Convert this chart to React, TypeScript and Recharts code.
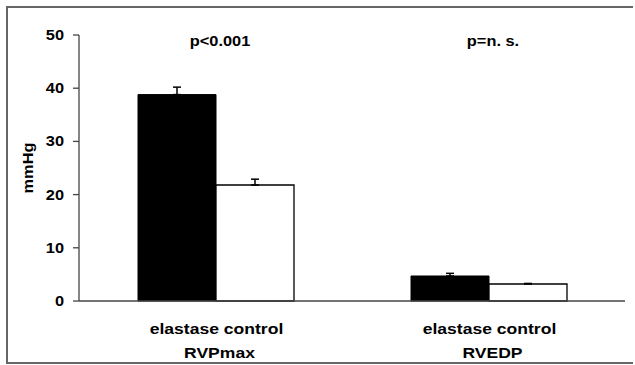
import { BarChart, Bar, XAxis, YAxis, ErrorBar, LabelList, Label } from "recharts";

const categories = ["RVPmax", "RVEDP"];
const groupLabels = ["elastase control", "elastase control"];
const elastase = [38.8, 4.7];
const elastaseErr = [1.4, 0.5];
const control = [21.8, 3.2];
const controlErr = [1.1, 0.1];
const pValues = ["p<0.001", "p=n. s."];
const yTicks = [0, 10, 20, 30, 40, 50];
const edgeTicks = [0, 1, 2];

const data = categories.map((name, i) => ({
  name,
  sub: groupLabels[i],
  elastase: elastase[i],
  elastaseErr: [0, elastaseErr[i]],
  control: control[i],
  controlErr: [0, controlErr[i]],
  p: pValues[i],
}));

const FONT = "'Liberation Sans', Arial, sans-serif";
const SX = 1.17; // text in the source is a bit wider than Arial

function YTick({ x, y, payload }: any) {
  return (
    <text
      transform={`translate(${x},${y + 5}) scale(${SX},1)`}
      textAnchor="end"
      fontFamily={FONT}
      fontWeight="bold"
      fontSize={14}
      fill="#000"
    >
      {payload.value}
    </text>
  );
}

function CatTick({ x, y, payload }: any) {
  const i = categories.indexOf(payload.value);
  const style = { fontFamily: FONT, fontWeight: "bold", fontSize: 15, fill: "#000" };
  return (
    <g>
      <text transform={`translate(${x + 1},${y + 33}) scale(${SX},1)`} textAnchor="middle" style={style}>
        {groupLabels[i]}
      </text>
      <text transform={`translate(${x + 4},${y + 57}) scale(${SX},1)`} textAnchor="middle" style={style}>
        {payload.value}
      </text>
    </g>
  );
}

function PLabel({ x, width, value }: any) {
  return (
    <text
      transform={`translate(${x + width + 4},46) scale(${SX},1)`}
      textAnchor="middle"
      fontFamily={FONT}
      fontWeight="bold"
      fontSize={14}
      fill="#000"
    >
      {value}
    </text>
  );
}

function YLabel({ viewBox }: any) {
  const cy = viewBox.y + viewBox.height / 2;
  return (
    <text
      transform={`translate(33,${cy}) rotate(-90) scale(${SX},1)`}
      textAnchor="middle"
      fontFamily={FONT}
      fontWeight="bold"
      fontSize={14}
      fill="#000"
    >
      mmHg
    </text>
  );
}

const line = { position: "absolute" as const, background: "#666" };

export default function App() {
  return (
    <div
      style={{
        position: "absolute",
        left: 0,
        top: 0,
        width: 635,
        height: 365,
        overflow: "hidden",
        background: "#fff",
      }}
    >
      {/* frame: left, top, bottom (right edge is cut off in the source) */}
      <div style={{ ...line, left: 6, top: 6, width: 2, height: 358 }} />
      <div style={{ ...line, left: 6, top: 6, width: 627, height: 2 }} />
      <div style={{ ...line, left: 6, top: 362, width: 627, height: 2 }} />
      <div style={{ position: "absolute", left: 0, top: 0 }}>
        <BarChart
          width={635}
          height={365}
          data={data}
          margin={{ top: 35, right: 10, bottom: 0, left: 0 }}
          barGap={0}
          barSize={78}
        >
          <XAxis
            xAxisId="edge"
            type="number"
            domain={[0, 2]}
            ticks={edgeTicks}
            allowDataOverflow
            height={0}
            axisLine={false}
            tickLine={{ stroke: "#444", strokeWidth: 1.3 }}
            tickSize={6}
            tick={() => <g />}
          />
          <XAxis
            xAxisId="cat"
            dataKey="name"
            height={64}
            axisLine={{ stroke: "#444", strokeWidth: 1.3 }}
            tickLine={false}
            tickSize={0}
            tickMargin={0}
            tick={<CatTick />}
            interval={0}
          />
          <YAxis
            width={79}
            domain={[0, 50]}
            ticks={yTicks}
            axisLine={{ stroke: "#444", strokeWidth: 1.3 }}
            tickLine={{ stroke: "#444", strokeWidth: 1.3 }}
            tickSize={6}
            tickMargin={9}
            tick={<YTick />}
          >
            <Label content={<YLabel />} />
          </YAxis>
          <Bar
            xAxisId="cat"
            dataKey="elastase"
            fill="#000"
            stroke="#000"
            isAnimationActive={false}
          >
            <ErrorBar dataKey="elastaseErr" width={4} stroke="#000" strokeWidth={1.5} direction="y" />
            <LabelList dataKey="p" content={<PLabel />} />
          </Bar>
          <Bar
            xAxisId="cat"
            dataKey="control"
            fill="#fff"
            stroke="#000"
            strokeWidth={1.3}
            isAnimationActive={false}
          >
            <ErrorBar dataKey="controlErr" width={4} stroke="#000" strokeWidth={1.5} direction="y" />
          </Bar>
        </BarChart>
      </div>
    </div>
  );
}
